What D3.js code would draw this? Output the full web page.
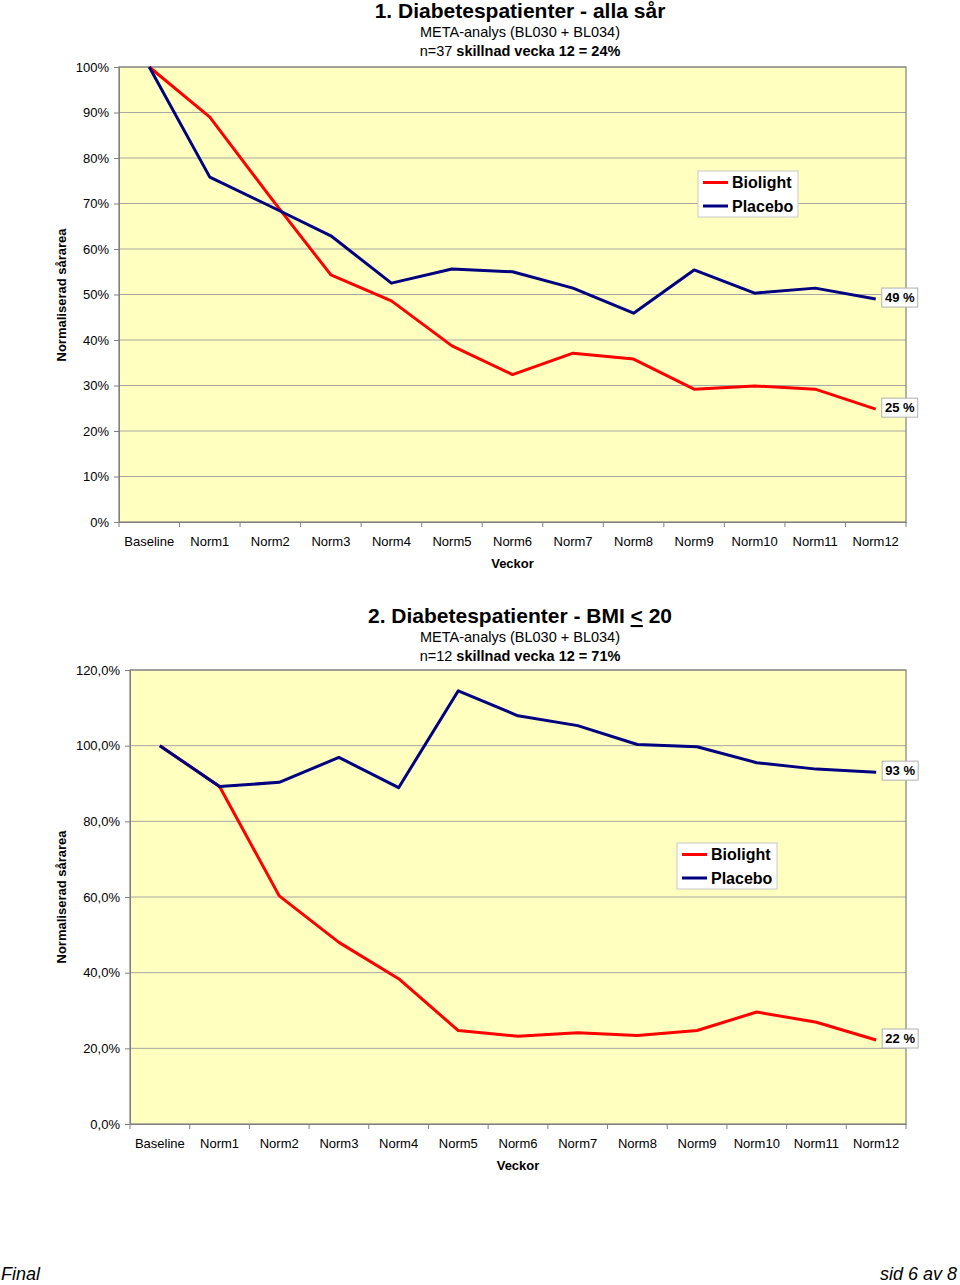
<!DOCTYPE html>
<html>
<head>
<meta charset="utf-8">
<script src="https://cdn.jsdelivr.net/npm/d3@7"></script>
<style>
  html, body { margin: 0; padding: 0; background: #fff; }
  svg { display: block; font-family: "Liberation Sans", Arial, sans-serif; }
</style>
</head>
<body>
<svg id="chart" width="960" height="1285"></svg>
<script>
// ---------- data ----------
const categories = ["Baseline","Norm1","Norm2","Norm3","Norm4","Norm5","Norm6","Norm7","Norm8","Norm9","Norm10","Norm11","Norm12"];
const seriesNames = ["Biolight", "Placebo"];

const chart1Biolight = [100, 89.0, 71.4, 54.3, 48.6, 38.7, 32.4, 37.1, 35.8, 29.2, 29.9, 29.2, 24.8];
const chart1Placebo  = [100, 75.8, 69.4, 62.9, 52.5, 55.6, 55.0, 51.4, 45.9, 55.4, 50.3, 51.4, 49.0];
const chart1Ticks    = [0, 10, 20, 30, 40, 50, 60, 70, 80, 90, 100];

const chart2Biolight = [100, 89.2, 60.3, 48.0, 38.4, 24.7, 23.2, 24.1, 23.4, 24.7, 29.6, 26.9, 22.2];
const chart2Placebo  = [100, 89.2, 90.3, 96.9, 88.9, 114.5, 107.9, 105.3, 100.3, 99.7, 95.5, 93.8, 93.0];
const chart2Ticks    = [0, 20, 40, 60, 80, 100, 120];

// ---------- style ----------
const RED = "#ff0000", BLUE = "#000080";
const PLOT_BG = "#ffffc0", GRID = "#a8a8a0", BORDER = "#808080";

const svg = d3.select("#chart");

function drawChart(cfg) {
  const g = svg.append("g");
  const x = d3.scaleBand().domain(categories).range([cfg.left, cfg.right]).paddingInner(0).paddingOuter(0);
  const y = d3.scaleLinear().domain([0, cfg.max]).range([cfg.bottom, cfg.top]);
  const cx = d => x(d) + x.bandwidth() / 2;

  // titles
  const tcx = 520;
  g.append("text").attr("x", tcx).attr("y", cfg.titleY).attr("text-anchor", "middle")
    .attr("font-size", 21).attr("font-weight", "bold").attr("fill", "#000")
    .call(t => cfg.title(t));
  g.append("text").attr("x", tcx).attr("y", cfg.titleY + 18.5).attr("text-anchor", "middle")
    .attr("font-size", 14.5).text("META-analys (BL030 + BL034)");
  const l3 = g.append("text").attr("x", tcx).attr("y", cfg.titleY + 37.5).attr("text-anchor", "middle")
    .attr("font-size", 14.5);
  l3.append("tspan").text(cfg.nText + " ");
  l3.append("tspan").attr("font-weight", "bold").text(cfg.diffText);

  // plot area
  g.append("rect").attr("x", cfg.left).attr("y", cfg.top)
    .attr("width", cfg.right - cfg.left).attr("height", cfg.bottom - cfg.top)
    .attr("fill", PLOT_BG);

  // gridlines
  g.append("g").selectAll("line").data(cfg.ticks.filter(v => v > 0)).join("line")
    .attr("x1", cfg.left).attr("x2", cfg.right)
    .attr("y1", d => y(d)).attr("y2", d => y(d))
    .attr("stroke", GRID).attr("stroke-width", 1);

  // border
  g.append("rect").attr("x", cfg.left).attr("y", cfg.top)
    .attr("width", cfg.right - cfg.left).attr("height", cfg.bottom - cfg.top)
    .attr("fill", "none").attr("stroke", BORDER).attr("stroke-width", 1.2);

  // y axis
  const yAxis = d3.axisLeft(y).tickValues(cfg.ticks).tickSize(5).tickPadding(5).tickFormat(cfg.fmt);
  const ya = g.append("g").attr("transform", `translate(${cfg.left},0)`).call(yAxis);
  ya.select(".domain").attr("stroke", BORDER);
  ya.selectAll(".tick line").attr("stroke", BORDER);
  ya.selectAll(".tick text").attr("font-size", 13).attr("font-family", "Liberation Sans, Arial, sans-serif").attr("fill", "#000");

  // x axis
  const xAxis = d3.axisBottom(x).tickSize(0).tickPadding(14.5);
  const xa = g.append("g").attr("transform", `translate(0,${cfg.bottom})`).call(xAxis);
  xa.select(".domain").attr("stroke", BORDER);
  xa.selectAll(".tick text").attr("font-size", 13).attr("font-family", "Liberation Sans, Arial, sans-serif").attr("fill", "#000");
  // boundary tick marks
  const bounds = categories.map(c => x(c)).concat([x(categories[categories.length - 1]) + x.bandwidth()]);
  g.append("g").selectAll("line").data(bounds).join("line")
    .attr("x1", d => d).attr("x2", d => d)
    .attr("y1", cfg.bottom).attr("y2", cfg.bottom + 5)
    .attr("stroke", BORDER).attr("stroke-width", 1);

  // axis titles
  g.append("text").attr("x", (cfg.left + cfg.right) / 2 + cfg.vOff).attr("y", cfg.bottom + 46)
    .attr("text-anchor", "middle").attr("font-size", 13).attr("font-weight", "bold").text("Veckor");
  g.append("text").attr("transform", `translate(66,${cfg.yLabelY}) rotate(-90)`)
    .attr("text-anchor", "middle").attr("font-size", 13).attr("font-weight", "bold").text("Normaliserad sårarea");

  // lines
  const line = d3.line().x((d, i) => cx(categories[i])).y(d => y(d));
  const series = [
    { name: seriesNames[0], values: cfg.bio, color: RED },
    { name: seriesNames[1], values: cfg.plac, color: BLUE }
  ];
  g.append("g").selectAll("path").data(series).join("path")
    .attr("d", d => line(d.values)).attr("fill", "none")
    .attr("stroke", d => d.color).attr("stroke-width", 3)
    .attr("stroke-linejoin", "round");

  // end labels
  series.forEach(s => {
    const v = s.values[s.values.length - 1];
    const px = cx(categories[categories.length - 1]) + 6;
    const py = y(v) - 1.5;
    const txt = Math.round(v) + " %";
    const lg = g.append("g");
    lg.append("rect").attr("x", px).attr("y", py - 9.5).attr("width", 36).attr("height", 19)
      .attr("fill", "#fff").attr("stroke", "#b0b0b0").attr("stroke-width", 1);
    lg.append("text").attr("x", px + 18).attr("y", py + 4.5).attr("text-anchor", "middle")
      .attr("font-size", 13).attr("font-weight", "bold").text(txt);
  });

  // legend
  const leg = g.append("g").attr("transform", `translate(${cfg.legX},${cfg.legY})`);
  leg.append("rect").attr("width", 100).attr("height", 46).attr("fill", "#fff")
    .attr("stroke", "#c8c8c8").attr("stroke-width", 1);
  series.forEach((s, i) => {
    const yy = 11.5 + i * 23.5;
    leg.append("line").attr("x1", 5).attr("x2", 30).attr("y1", yy).attr("y2", yy)
      .attr("stroke", s.color).attr("stroke-width", 3);
    leg.append("text").attr("x", 34).attr("y", yy + 5.5).attr("font-size", 16)
      .attr("font-weight", "bold").text(s.name);
  });
}

drawChart({
  left: 119, right: 906, top: 67, bottom: 522, max: 100,
  ticks: chart1Ticks, fmt: d => d + "%",
  bio: chart1Biolight, plac: chart1Placebo,
  titleY: 18,
  title: t => t.text("1. Diabetespatienter - alla sår"),
  nText: "n=37", diffText: "skillnad vecka 12 = 24%",
  legX: 698, legY: 171, yLabelY: 295, vOff: 0
});

drawChart({
  left: 130, right: 906, top: 670, bottom: 1124, max: 120,
  ticks: chart2Ticks, fmt: d => d3.format(".1f")(d).replace(".", ",") + "%",
  bio: chart2Biolight, plac: chart2Placebo,
  titleY: 623,
  title: t => { t.append("tspan").text("2. Diabetespatienter - BMI "); t.append("tspan").attr("text-decoration", "underline").text("<"); t.append("tspan").text(" 20"); },
  nText: "n=12", diffText: "skillnad vecka 12 = 71%",
  legX: 677, legY: 843, yLabelY: 897, vOff: 0
});

// footer
svg.append("text").attr("x", 1).attr("y", 1280).attr("font-size", 18).attr("font-style", "italic").text("Final");
svg.append("text").attr("x", 957).attr("y", 1280).attr("text-anchor", "end").attr("font-size", 18).attr("font-style", "italic").text("sid 6 av 8");
</script>
</body>
</html>
